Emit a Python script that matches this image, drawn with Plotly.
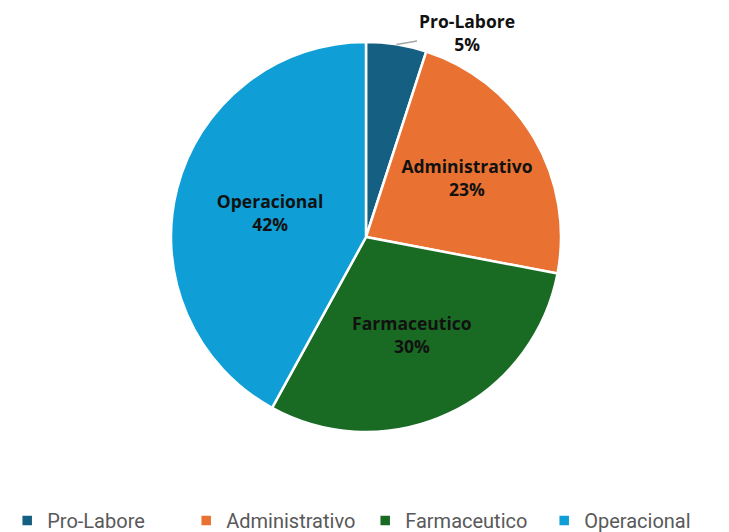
import math
import plotly.graph_objects as go

categories = ["Pro-Labore", "Administrativo", "Farmaceutico", "Operacional"]
values = [5, 23, 30, 42]
colors = ["#156082", "#E97132", "#196B24", "#0F9ED5"]
text_positions = ["none", "inside", "inside", "inside"]

W, H = 729, 532
dom_x = [163/W, 553/W]
dom_y = [(H-424)/H, (H-34)/H]

fig = go.Figure(go.Pie(
    labels=categories,
    values=values,
    sort=False,
    direction="clockwise",
    rotation=0,
    marker=dict(colors=colors, line=dict(color="white", width=2.5)),
    texttemplate="<b>%{label}</b><br><b>%{percent:.0%}</b>",
    textposition=text_positions,
    insidetextorientation="horizontal",
    textfont=dict(family="Open Sans", size=17.5, color="#111111"),
    domain=dict(x=dom_x, y=dom_y),
    hoverinfo="label+percent",
))

# Callout label for the small first slice, anchored at its outer-edge midpoint
total = sum(values)
mid_angle = 2 * math.pi * (values[0] / 2) / total
cx_px = (dom_x[0] + dom_x[1]) / 2 * W
cy_px = (1 - (dom_y[0] + dom_y[1]) / 2) * H
r_px = min((dom_x[1] - dom_x[0]) * W, (dom_y[1] - dom_y[0]) * H) / 2
edge_x = cx_px + r_px * math.sin(mid_angle)
edge_y = cy_px - r_px * math.cos(mid_angle)
pct0 = round(100 * values[0] / total)

fig.add_annotation(
    x=edge_x / W, y=1 - edge_y / H, xref="paper", yref="paper",
    text=f"<b>{categories[0]}</b><br><b>{pct0}%</b>",
    showarrow=True, arrowhead=0, arrowwidth=1.5, arrowcolor="#A6A6A6",
    ax=70, ay=-12, standoff=0,
    font=dict(family="Open Sans", size=17.5, color="#111111"),
    align="center",
)

fig.update_layout(
    width=W, height=H,
    margin=dict(l=0, r=0, t=0, b=0, autoexpand=False),
    paper_bgcolor="white",
    plot_bgcolor="white",
    showlegend=True,
    legend=dict(
        orientation="h",
        x=0.49, xanchor="center",
        y=0.0, yanchor="bottom",
        font=dict(family="Roboto", size=20, color="#595959"),
        itemwidth=30,
        entrywidth=134,
        entrywidthmode="pixels",
        traceorder="normal",
    ),
)

fig.write_html("out.html")
